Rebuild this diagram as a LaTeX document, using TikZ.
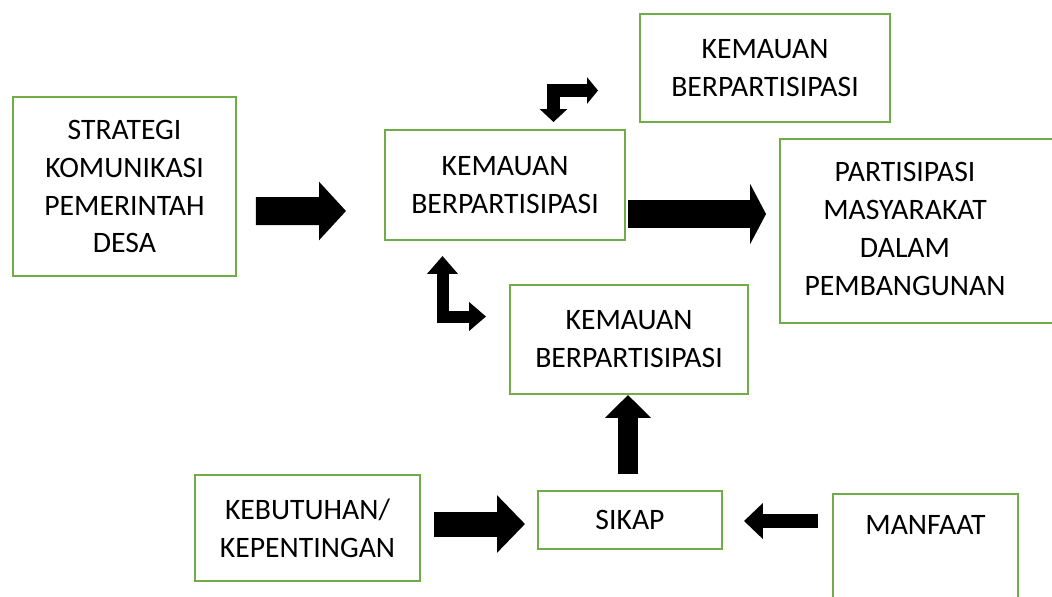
\documentclass[tikz,border=0pt]{standalone}
\usepackage{fontspec}
\setmainfont{Carlito}
\usetikzlibrary{arrows.meta}
\definecolor{boxgreen}{RGB}{112,173,71}
\tikzset{
    box/.style={
        rectangle,
        draw=boxgreen,
        line width=0.04cm,
        align=center,
        inner sep=0pt,
        font=\fontsize{16.9}{21.6}\selectfont
    },
    bigarrow/.style n args={3}{
        draw=black,
        line width=#1,
        -{Triangle[length=#2, width=#3]}
    },
    bentarrow/.style={
        draw=black,
        line width=#1,
        line join=miter
    }
}
\begin{document}
\begin{tikzpicture}[x=0.02cm, y=-0.02cm]
    \useasboundingbox (0,0) rectangle (1052,596);
    \clip (0,0) rectangle (1052,596);

    % Boxes
    \node[box, minimum width=4.46cm, minimum height=3.58cm] (strategi) at (124.5,186.5) {STRATEGI\\KOMUNIKASI\\PEMERINTAH\\DESA};
    \node[box, minimum width=4.8cm, minimum height=2.2cm] (kemauan) at (505,185) {KEMAUAN\\BERPARTISIPASI};
    \node[box, minimum width=5cm, minimum height=2.16cm] (kemauanatas) at (765,68) {KEMAUAN\\BERPARTISIPASI};
    \node[box, minimum width=5.56cm, minimum height=3.68cm] (partisipasi) at (919,231)
        {\begin{tabular}{@{}c@{\hspace{0.56cm}}}PARTISIPASI\\MASYARAKAT\\DALAM\\PEMBANGUNAN\end{tabular}};
    \node[box, minimum width=4.76cm, minimum height=2.18cm] (kemauanbawah) at (629,339.5) {KEMAUAN\\BERPARTISIPASI};
    \node[box, minimum width=4.5cm, minimum height=2.12cm] (kebutuhan) at (307.5,528) {KEBUTUHAN/\\KEPENTINGAN};
    \node[box, minimum width=3.68cm, minimum height=1.16cm] (sikap) at (630,520) {SIKAP};
    \node[box, minimum width=3.7cm, anchor=north, text height=22.8pt, text depth=61pt] (manfaat) at (925.5,493) {MANFAAT};

    % Arrows
    \draw[bigarrow={0.56cm}{0.54cm}{1.14cm}] ([shift={(19,24.5)}]strategi.east) -- ([shift={(-38,26)}]kemauan.west);
    \draw[bigarrow={0.56cm}{0.32cm}{1.2cm}] ([shift={(2,29)}]kemauan.east) -- ([shift={(-13,-17)}]partisipasi.west);
    \draw[bigarrow={0.5cm}{0.56cm}{1.12cm}] ([shift={(13,-4)}]kebutuhan.east) -- ([shift={(-12,4)}]sikap.west);
    \draw[bigarrow={0.28cm}{0.38cm}{0.7cm}] ([shift={(-14,28)}]manfaat.north west) -- ([shift={(21,1)}]sikap.east);
    \draw[bigarrow={0.4cm}{0.46cm}{0.9cm}] ([shift={(-2,-16)}]sikap.north) -- ([shift={(-1,0)}]kemauanbawah.south);

    % Bent arrows
    \draw[bentarrow=0.26cm, {Triangle[length=0.22cm, width=0.52cm]}-{Triangle[length=0.26cm, width=0.54cm]}]
        ([shift={(-41,22.5)}]kemauanatas.west) -| ([shift={(48.5,-7)}]kemauan.north);
    \draw[bentarrow=0.24cm, {Triangle[length=0.36cm, width=0.6cm]}-{Triangle[length=0.34cm, width=0.56cm]}]
        ([shift={(-62.5,15)}]kemauan.south) |- ([shift={(-23,-23)}]kemauanbawah.west);
\end{tikzpicture}
\end{document}
